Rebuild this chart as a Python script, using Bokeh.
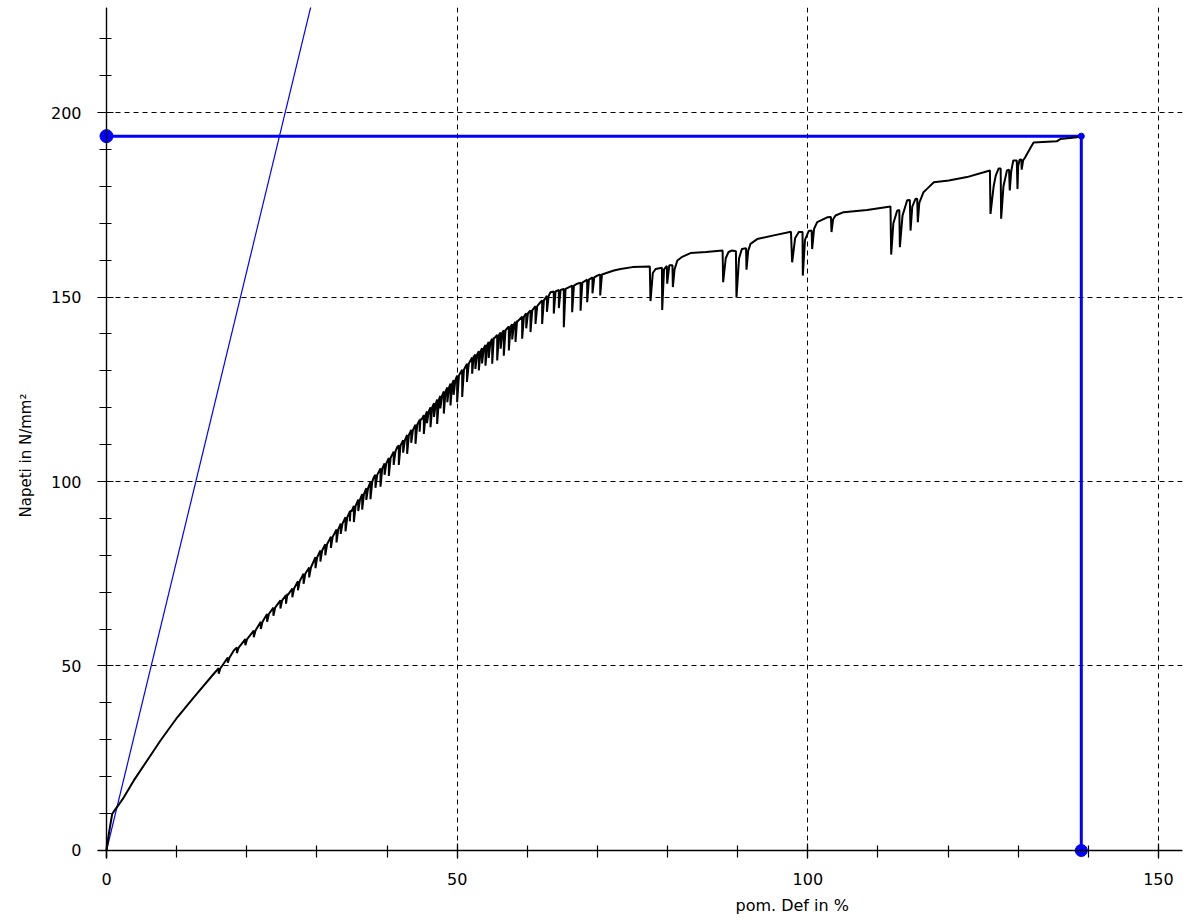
import math
from bokeh.plotting import figure
from bokeh.models import Range1d, SingleIntervalTicker, LinearAxis, Grid, Span, Title
from bokeh.embed import file_html
from bokeh.resources import INLINE

# ---------------- data ----------------
# smooth upper envelope of the stress-strain curve (strain %, stress N/mm2)
env_strain = [0.0, 0.33, 0.81, 1.2, 1.6, 2.47, 3.9, 5.8, 7.7, 10.1, 12.45, 15.3,
              18.15, 21.0, 22.9, 24.8, 25.8, 28.1, 29.8, 31.94, 34.79, 38.12,
              41.45, 44.77, 46.67, 50.0, 52.38, 55.23, 58.55, 61.88, 63.31,
              65.2, 67.12, 69.97, 72.34, 73.3, 75.0]
env_stress = [0.0, 4.5, 9.9, 11.0, 12.0, 14.4, 19.0, 24.4, 29.8, 36.1, 41.5, 47.9,
              54.2, 59.6, 64.1, 67.8, 69.6, 75.0, 79.5, 84.8, 92.1, 101.2,
              109.3, 117.0, 121.1, 128.7, 134.1, 139.1, 143.6, 148.6, 151.3,
              152.2, 153.6, 155.8, 157.2, 157.6, 158.1]

# serrations (stress drops): strain, stress before drop, stress at bottom
drop_strain = [16.0, 17.3, 18.6, 19.8, 21.0, 22.0, 22.9, 23.8, 24.8, 25.6, 26.5,
               27.3, 28.1, 28.9, 29.8, 30.5, 31.2, 32.0,
               32.8, 33.4, 34.08, 34.7, 35.27, 35.9, 36.46, 37.05, 37.64, 38.35,
               39.07, 39.65, 40.26, 40.95, 41.68, 42.3, 42.87, 43.45, 44.06,
               44.65, 45.25, 45.7, 46.2, 46.7, 47.15, 47.6, 48.1, 48.6, 49.05,
               49.5, 50.0, 50.72, 51.4, 52.14, 52.6, 53.09, 53.55, 54.04, 54.5,
               55.0, 55.71, 56.2, 56.65, 57.37, 57.85, 58.32, 59.27, 59.85,
               60.46, 61.17, 62.12, 62.8, 63.78, 64.5, 65.21, 66.4, 67.6, 68.54,
               69.3, 70.4]
drop_top = [49.4, 52.3, 55.0, 57.3, 59.6, 62.0, 64.1, 65.8, 67.8, 69.2, 71.0,
            73.0, 75.0, 76.7, 79.5, 81.3, 83.0, 85.0,
            87.0, 88.6, 90.3, 91.9, 93.4, 95.1, 96.6, 98.2, 99.9, 101.8,
            103.5, 104.9, 106.4, 108.1, 109.8, 111.2, 112.6, 114.0, 115.4,
            116.7, 118.0, 119.0, 120.1, 121.1, 122.2, 123.2, 124.4, 125.5, 126.5,
            127.5, 128.7, 130.3, 131.9, 133.6, 134.4, 135.3, 136.1, 137.0, 137.8,
            138.7, 139.7, 140.4, 141.0, 142.0, 142.6, 143.3, 144.7, 145.6,
            146.4, 147.5, 149.1, 150.3, 151.5, 151.9, 152.2, 153.1, 153.9, 154.7,
            155.3, 156.1]
drop_bottom = [47.9, 50.9, 53.5, 55.6, 57.8, 60.0, 62.0, 63.6, 65.6, 66.9, 68.6,
               70.5, 72.3, 74.0, 76.5, 78.3, 80.0, 82.0,
               83.5, 85.8, 86.5, 89.2, 89.0, 92.0, 92.4, 95.0, 95.2, 98.3,
               98.6, 101.8, 101.5, 104.5, 104.5, 107.8, 107.5, 110.5, 110.2,
               113.5, 112.9, 115.8, 114.7, 117.5, 115.6, 119.8, 118.4, 121.5, 120.6,
               123.5, 121.5, 122.9, 127.0, 129.2, 130.5, 130.1, 132.0, 131.4, 133.5,
               131.9, 132.8, 136.0, 134.1, 135.5, 138.5, 137.8, 138.7, 141.5,
               140.5, 142.7, 142.7, 146.0, 145.5, 147.0, 141.8, 145.9, 146.3, 148.6,
               151.0, 150.4]

# last part of the curve, point by point
tail_strain = [77.47, 77.57, 77.9, 78.3, 79.2, 79.24, 79.5, 79.9, 79.95, 80.25,
               80.7, 80.76, 81.0, 81.4, 82.1, 83.27, 85.5, 87.85, 87.93, 88.3,
               88.7, 89.2, 89.75, 89.83, 90.2, 90.6, 91.2, 91.26, 91.5, 91.83,
               92.78, 95.15, 97.6, 97.77, 98.2, 98.72, 99.25, 99.29, 99.6, 100.14,
               100.55, 100.62, 100.9, 101.34, 102.77, 103.3, 103.38, 103.6, 103.95,
               105.1, 108.46, 111.79, 111.89, 112.2, 112.75, 113.05, 113.13, 113.5,
               114.17, 114.55, 114.65, 114.9, 115.36, 115.6, 115.69, 115.9, 116.5,
               117.0, 117.97, 120.1, 122.7, 125.1, 125.97, 126.05, 126.5, 126.8,
               127.2, 127.5, 127.57, 127.9, 128.4, 128.7, 128.8, 129.0, 129.3,
               129.8, 129.9, 130.0, 130.2, 130.45, 130.5, 130.7, 131.0, 131.8,
               132.2, 135.5, 136.0, 138.4, 138.9]
tail_stress = [158.3, 148.9, 156.5, 157.6, 157.9, 146.5, 157.5, 158.4, 153.6, 158.6,
               158.6, 152.7, 157.5, 159.9, 160.9, 161.9, 162.2, 162.6, 154.0, 160.5,
               162.2, 162.6, 162.4, 149.9, 160.5, 163.0, 163.2, 157.4, 162.5, 164.4,
               165.7, 166.7, 167.7, 159.4, 166.0, 167.6, 167.6, 155.8, 165.5, 167.9,
               168.0, 163.0, 168.5, 170.3, 171.6, 171.7, 167.6, 171.0, 172.1,
               173.0, 173.6, 174.5, 161.5, 170.0, 173.4, 173.6, 163.5, 172.0,
               176.2, 176.3, 168.0, 174.5, 176.6, 176.6, 170.3, 175.5, 178.4,
               179.3, 181.1, 181.6, 182.5, 183.8, 184.3, 172.5, 180.0, 182.9,
               184.8, 184.8, 171.2, 180.0, 184.3, 184.5, 178.9, 184.0, 187.0,
               187.0, 179.3, 185.5, 187.2, 187.3, 184.5, 187.0, 187.9, 190.6,
               191.9, 192.2, 192.8, 193.3, 193.8]

# modulus (elastic) line and the maximum-stress point
mod_strain = [0.0, 29.2]
mod_stress = [0.0, 229.2]
rm_strain = 139.0
rm_stress = 193.6

x_tick_interval = 50
y_tick_interval = 50
x_label = "pom. Def in %"
y_label = "Napeti in N/mm²"

# ---------------- build the curve path ----------------
RISE = 0.25
pts = list(zip(env_strain, env_stress))
for x, t, b in zip(drop_strain, drop_top, drop_bottom):
    pts += [(x, t), (x, b), (x + RISE, t)]
pts.sort(key=lambda q: q[0])
curve_x = [q[0] for q in pts] + tail_strain
curve_y = [q[1] for q in pts] + tail_stress

# ---------------- figure ----------------
p = figure(width=1188, height=920, output_backend="svg", toolbar_location=None,
           x_range=Range1d(-1.283, 153.43), y_range=Range1d(-2.17, 228.46),
           x_axis_type=None, y_axis_type=None,
           min_border_left=97, min_border_right=6, min_border_top=7,
           min_border_bottom=62, background_fill_color="white",
           border_fill_color="white")
p.outline_line_color = None

xaxis = LinearAxis(ticker=SingleIntervalTicker(interval=x_tick_interval, num_minor_ticks=5))
yaxis = LinearAxis(ticker=SingleIntervalTicker(interval=y_tick_interval, num_minor_ticks=5))
for ax in (xaxis, yaxis):
    ax.axis_line_color = None
    ax.major_tick_line_color = "black"
    ax.minor_tick_line_color = "black"
    ax.major_tick_line_width = 1.2
    ax.minor_tick_line_width = 1.2
    ax.major_label_text_font = "DejaVu Sans"
    ax.major_label_text_font_size = "16px"
    ax.major_label_text_color = "black"
xaxis.major_tick_out = 0
xaxis.major_tick_in = 15
xaxis.minor_tick_out = -1
xaxis.minor_tick_in = 13
xaxis.major_label_standoff = 14
yaxis.major_tick_out = 0
yaxis.major_tick_in = 16
yaxis.minor_tick_out = -2
yaxis.minor_tick_in = 14
yaxis.major_label_standoff = 16
p.add_layout(xaxis, "below")
p.add_layout(yaxis, "left")

for dim, tk in ((0, xaxis.ticker), (1, yaxis.ticker)):
    p.add_layout(Grid(dimension=dim, ticker=tk, grid_line_color="black",
                      grid_line_dash="5 4", grid_line_width=1))

# axis lines crossing at the origin
p.add_layout(Span(location=0, dimension="height", line_color="black", line_width=1.4))
p.add_layout(Span(location=0, dimension="width", line_color="black", line_width=1.4))

blue = "#0000ff"
p.line(mod_strain, mod_stress, line_color=blue, line_width=1.2)
p.line([0, rm_strain, rm_strain], [rm_stress, rm_stress, 0], line_color=blue, line_width=3)
p.line(curve_x, curve_y, line_color="black", line_width=2)
p.scatter([0], [rm_stress], size=13, color=blue)
p.scatter([rm_strain], [0], size=12, color=blue)
p.scatter([rm_strain], [rm_stress], size=6, color=blue)

p.add_layout(Title(text=x_label, align="left", offset=638, standoff=12,
                   text_font="DejaVu Sans", text_font_size="16px",
                   text_font_style="normal", text_color="black"), "below")
p.add_layout(Title(text=y_label, align="left", offset=341, standoff=26,
                   text_font="DejaVu Sans", text_font_size="15px",
                   text_font_style="normal", text_color="black"), "left")

open("out.html", "w").write(file_html(p, INLINE))
